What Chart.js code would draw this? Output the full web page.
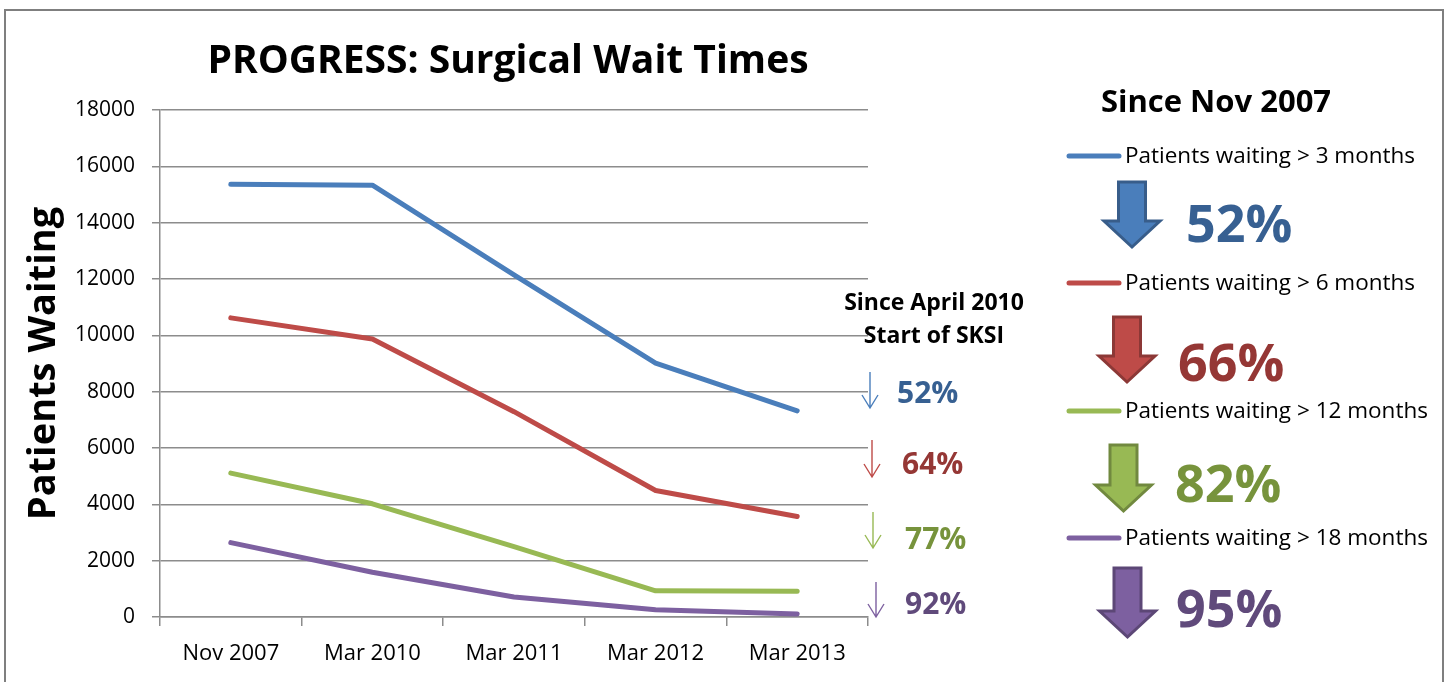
<!DOCTYPE html>
<html>
<head>
<meta charset="utf-8">
<script src="https://cdn.jsdelivr.net/npm/chart.js@4.4.1/dist/chart.umd.min.js"></script>
<style>
  html, body { margin: 0; padding: 0; background: #fff; }
  #waitChart { display: block; }
</style>
</head>
<body>
<canvas id="waitChart" width="1450" height="682"></canvas>
<script>
// categories and series
const periods = ["Nov 2007", "Mar 2010", "Mar 2011", "Mar 2012", "Mar 2013"];
const over3Months = [15360, 15330, 12150, 9010, 7320];
const over6Months = [10620, 9870, 7290, 4490, 3570];
const over12Months = [5110, 4020, 2500, 930, 910];
const over18Months = [2640, 1590, 710, 260, 110];

const seriesLabels = [
  "Patients waiting > 3 months",
  "Patients waiting > 6 months",
  "Patients waiting > 12 months",
  "Patients waiting > 18 months",
];
const dropSinceApr2010 = [52, 64, 77, 92];
const dropSinceNov2007 = [52, 66, 82, 95];
const yTicks = [0, 2000, 4000, 6000, 8000, 10000, 12000, 14000, 16000, 18000];

const FONT = "'Open Sans', 'DejaVu Sans', sans-serif";
const lineColors = ["#4A7EBB", "#BE4B48", "#98B954", "#7D60A0"];
const darkColors = ["#376092", "#953735", "#77933C", "#604A7B"];
const arrowEdge = ["#385D8A", "#8C3836", "#71893F", "#5C4776"];
const GRID = "#8c8c8c";

const drawBlockArrow = (ctx, cx, top, tip, fill, edge) => {
  const shaftHalf = 13.5;
  const headHalf = 28;
  const headTop = tip - 26;
  ctx.save();
  ctx.beginPath();
  ctx.moveTo(cx - shaftHalf, top);
  ctx.lineTo(cx + shaftHalf, top);
  ctx.lineTo(cx + shaftHalf, headTop);
  ctx.lineTo(cx + headHalf, headTop);
  ctx.lineTo(cx, tip);
  ctx.lineTo(cx - headHalf, headTop);
  ctx.lineTo(cx - shaftHalf, headTop);
  ctx.closePath();
  ctx.fillStyle = fill;
  ctx.fill();
  ctx.lineWidth = 3;
  ctx.lineJoin = "miter";
  ctx.strokeStyle = edge;
  ctx.stroke();
  ctx.restore();
};

const drawThinArrow = (ctx, x, top, tip, color) => {
  ctx.save();
  ctx.strokeStyle = color;
  ctx.lineWidth = 1.4;
  ctx.beginPath();
  ctx.moveTo(x, top);
  ctx.lineTo(x, tip);
  ctx.moveTo(x - 8, tip - 13);
  ctx.lineTo(x, tip);
  ctx.lineTo(x + 8, tip - 13);
  ctx.stroke();
  ctx.restore();
};

const overlayPlugin = {
  id: "overlay",
  beforeDraw(chart) {
    const ctx = chart.ctx;
    ctx.save();
    ctx.fillStyle = "#fff";
    ctx.fillRect(0, 0, chart.width, chart.height);
    ctx.strokeStyle = "#7f7f7f";
    ctx.lineWidth = 2;
    ctx.strokeRect(5, 10, 1438, 700);
    ctx.restore();
  },
  afterDraw(chart) {
    const ctx = chart.ctx;
    ctx.save();
    ctx.fillStyle = "#000";
    ctx.textBaseline = "alphabetic";

    // main title
    ctx.textAlign = "center";
    ctx.font = `bold 39px ${FONT}`;
    ctx.fillText("PROGRESS: Surgical Wait Times", 508, 73);

    // middle note
    ctx.font = `bold 23px ${FONT}`;
    ctx.fillText("Since April 2010", 934, 310);
    ctx.fillText("Start of SKSI", 934, 343);

    const thinX = [870, 872, 873, 876];
    const thinTop = [372, 440, 512, 582];
    const thinTip = [408, 477, 548, 617];
    const smallPctX = [897, 902, 905, 905];
    const smallPctY = [403, 474, 549, 614];
    ctx.textAlign = "left";
    ctx.font = `bold 30px ${FONT}`;
    dropSinceApr2010.forEach((pct, i) => {
      drawThinArrow(ctx, thinX[i], thinTop[i], thinTip[i], lineColors[i]);
      ctx.fillStyle = darkColors[i];
      ctx.fillText(`${pct}%`, smallPctX[i], smallPctY[i]);
    });

    // right panel
    ctx.fillStyle = "#000";
    ctx.textAlign = "center";
    ctx.font = `bold 31px ${FONT}`;
    ctx.fillText("Since Nov 2007", 1216, 112);

    const legendY = [156, 283, 411, 538];
    const bigCx = [1132, 1127, 1123.5, 1127.5];
    const bigTop = [182, 317, 445, 568];
    const bigTip = [247, 382, 511, 637];
    const bigPctX = [1186, 1178, 1175, 1176];
    const bigPctY = [242, 381, 502, 627];
    chart.data.datasets.forEach((ds, i) => {
      ctx.save();
      ctx.strokeStyle = ds.borderColor;
      ctx.lineWidth = 5;
      ctx.lineCap = "round";
      ctx.beginPath();
      ctx.moveTo(1069, legendY[i]);
      ctx.lineTo(1119, legendY[i]);
      ctx.stroke();
      ctx.restore();

      ctx.fillStyle = "#000";
      ctx.textAlign = "left";
      ctx.font = `22.5px ${FONT}`;
      ctx.fillText(ds.label, 1125, legendY[i] + 7);

      drawBlockArrow(ctx, bigCx[i], bigTop[i], bigTip[i], ds.borderColor, arrowEdge[i]);
      ctx.fillStyle = darkColors[i];
      ctx.font = `bold 52px ${FONT}`;
      ctx.fillText(`${dropSinceNov2007[i]}%`, bigPctX[i], bigPctY[i]);
    });
    ctx.restore();
  },
};

const seriesValues = [over3Months, over6Months, over12Months, over18Months];

new Chart(document.getElementById("waitChart"), {
  type: "line",
  data: {
    labels: periods,
    datasets: seriesValues.map((values, i) => ({
      label: seriesLabels[i],
      data: values,
      borderColor: lineColors[i],
      backgroundColor: lineColors[i],
      borderWidth: 5,
      pointRadius: 0,
      tension: 0,
      borderCapStyle: "round",
      borderJoinStyle: "round",
    })),
  },
  options: {
    responsive: false,
    animation: false,
    layout: { padding: { top: 110, right: 582, bottom: 0, left: 0 } },
    plugins: { legend: { display: false }, title: { display: false }, tooltip: { enabled: false } },
    scales: {
      x: {
        offset: true,
        grid: { offset: true, drawOnChartArea: false, drawTicks: true, tickLength: 9, color: GRID, lineWidth: 1.5 },
        border: { display: true, color: GRID, width: 1.5 },
        ticks: { color: "#000", font: { family: FONT, size: 22 }, padding: 15, maxRotation: 0 },
        afterFit: (scale) => { scale.height = 65; },
      },
      y: {
        min: 0,
        max: 18000,
        afterBuildTicks: (scale) => { scale.ticks = yTicks.map((v) => ({ value: v })); },
        grid: { color: GRID, lineWidth: 1.5, tickLength: 8 },
        border: { display: true, color: GRID, width: 1.5 },
        ticks: { color: "#000", font: { family: FONT, size: 21 }, padding: 17, callback: (v) => String(v) },
        title: {
          display: true,
          text: "Patients Waiting",
          color: "#000",
          font: { family: FONT, size: 38, weight: "bold" },
          padding: { top: 21, bottom: 0 },
        },
        afterFit: (scale) => { scale.width = 160; },
      },
    },
  },
  plugins: [overlayPlugin],
});
</script>
</body>
</html>
